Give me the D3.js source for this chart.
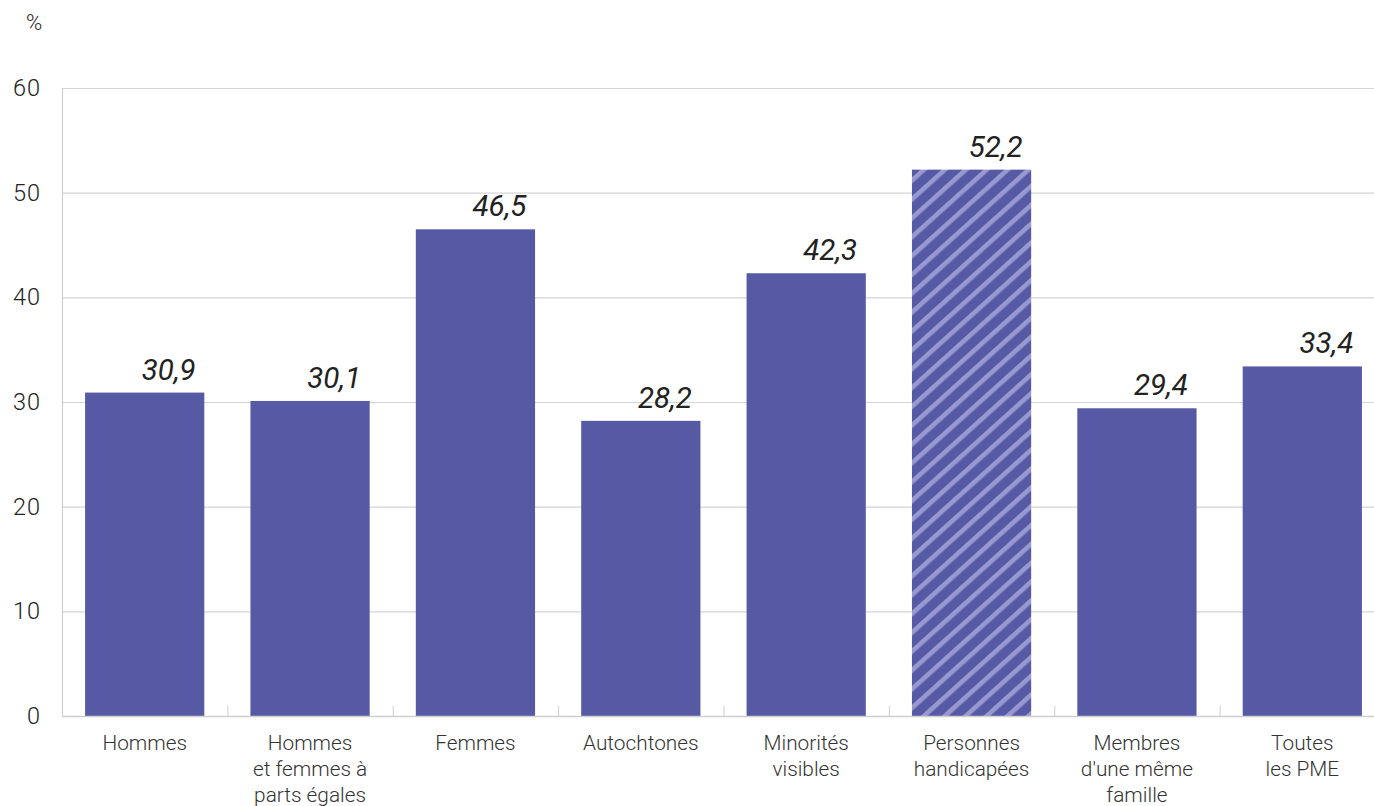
<!DOCTYPE html>
<html><head><meta charset="utf-8">
<script src="https://cdn.jsdelivr.net/npm/d3@7"></script>
<style>body{margin:0;background:#fff}svg{display:block}</style>
</head><body>
<svg id="c" width="1374" height="806"></svg>
<script>
const categories = [["Hommes"],["Hommes","et femmes à","parts égales"],["Femmes"],["Autochtones"],["Minorités","visibles"],["Personnes","handicapées"],["Membres","d'une même","famille"],["Toutes","les PME"]];
const values = [30.9, 30.1, 46.5, 28.2, 42.3, 52.2, 29.4, 33.4];
const hatched = [false,false,false,false,false,true,false,false];
const yTicks = [0,10,20,30,40,50,60];
const unitLabel = "%";

const svg = d3.select("#c");
const m = {l:62, t:88};
const W = 1374;
const plotRight = 1385;
const x = d3.scaleBand().domain(d3.range(values.length)).range([m.l, plotRight]).paddingInner(0.279).paddingOuter(0.1395);
const y = d3.scaleLinear().domain([0,60]).range([716, 88]);

const defs = svg.append("defs");
const pat = defs.append("pattern").attr("id","hatch").attr("patternUnits","userSpaceOnUse")
  .attr("width",14).attr("height",20).attr("patternTransform","rotate(48)");
pat.append("rect").attr("width",14).attr("height",20).attr("fill","#565aa5");
pat.append("rect").attr("x",0).attr("width",4.6).attr("height",20).attr("fill","#9799d0");

// grid
svg.append("g").selectAll("line").data(yTicks.filter(d=>d>0)).join("line")
  .attr("x1",m.l).attr("x2",W).attr("y1",d=>y(d)+0.5).attr("y2",d=>y(d)+0.5)
  .attr("stroke","#d4d4d4").attr("stroke-width",1.2);

// y labels
svg.append("g").selectAll("text").data(yTicks).join("text")
  .attr("x",41).attr("y",d=>y(d)+8).attr("text-anchor","end")
  .attr("font-family","Roboto").attr("font-weight",300).attr("font-size",23.5).attr("fill","#222")
  .attr("letter-spacing",1)
  .text(d=>d);
svg.append("text").attr("x",26).attr("y",30).attr("font-family","Roboto").attr("font-weight",300)
  .attr("font-size",22).attr("fill","#222").text(unitLabel);

// bars
svg.append("g").selectAll("rect").data(values).join("rect")
  .attr("x",(d,i)=>x(i)).attr("width",x.bandwidth())
  .attr("y",d=>y(d)).attr("height",d=>y(0)-y(d))
  .attr("fill",(d,i)=>hatched[i]?"url(#hatch)":"#565aa5");

// value labels
svg.append("g").selectAll("text").data(values).join("text")
  .attr("x",(d,i)=>x(i)+x.bandwidth()/2+24).attr("y",d=>y(d)-13)
  .attr("text-anchor","middle").attr("font-family","Roboto").attr("font-style","italic")
  .attr("font-size",29.5).attr("fill","#222")
  .text(d=>d.toFixed(1).replace(".",","));

// axes lines
const step = x.step();
svg.append("line").attr("x1",m.l+0.5).attr("x2",m.l+0.5).attr("y1",88).attr("y2",716.5).attr("stroke","#cfcfcf").attr("stroke-width",1.2);
svg.append("line").attr("x1",m.l).attr("x2",W).attr("y1",716.5).attr("y2",716.5).attr("stroke","#cfcfcf").attr("stroke-width",1.5);
svg.append("g").selectAll("line").data(d3.range(1,values.length)).join("line")
  .attr("x1",i=>m.l+i*step+0.5).attr("x2",i=>m.l+i*step+0.5).attr("y1",706).attr("y2",716)
  .attr("stroke","#cfcfcf");

// category labels
const cg = svg.append("g").selectAll("text").data(categories).join("text")
  .attr("x",(d,i)=>x(i)+x.bandwidth()/2).attr("y",750).attr("text-anchor","middle")
  .attr("font-family","Roboto").attr("font-weight",300).attr("font-size",20.8).attr("fill","#333");
cg.selectAll("tspan").data(d=>d).join("tspan")
  .attr("x",function(){return this.parentNode.getAttribute("x");})
  .attr("dy",(d,j)=>j===0?0:26).text(d=>d);
</script>
</body></html>
